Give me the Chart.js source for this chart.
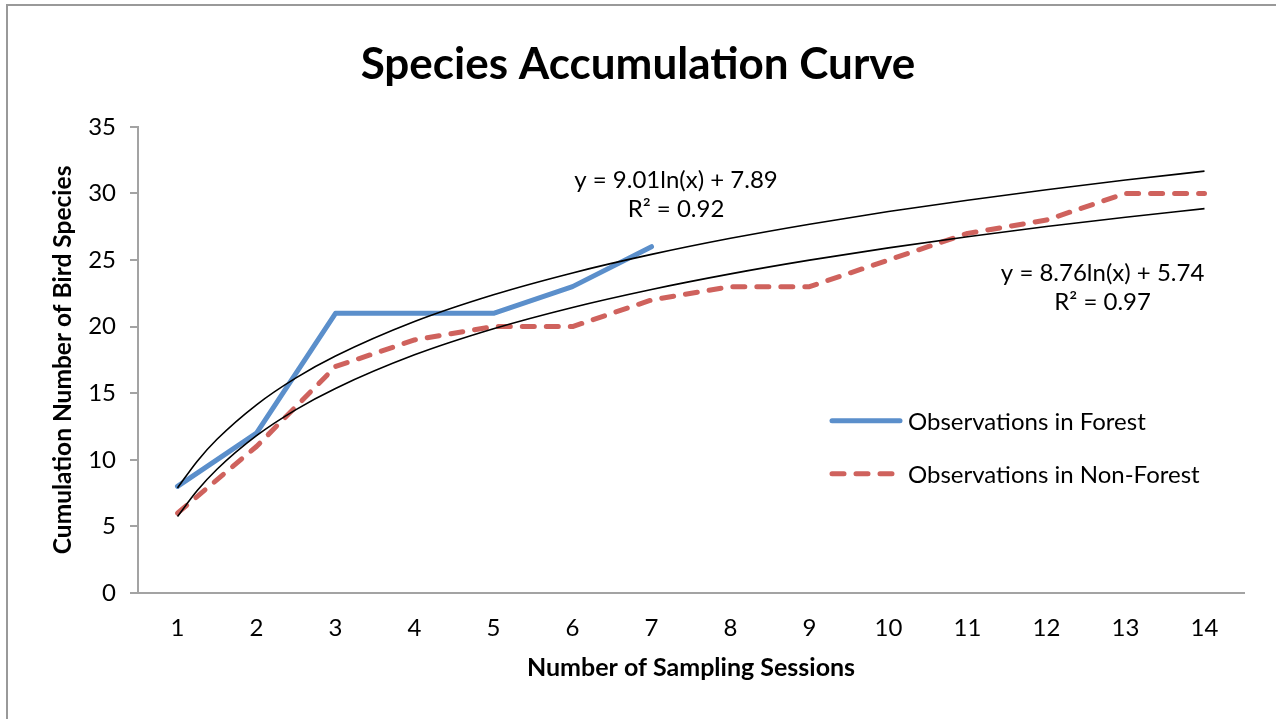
<!DOCTYPE html>
<html>
<head>
<meta charset="utf-8">
<title>Species Accumulation Curve</title>
<script src="https://cdn.jsdelivr.net/npm/chart.js@4.4.1/dist/chart.umd.min.js"></script>
<style>
  html, body { margin: 0; padding: 0; background: #fff; }
  canvas { display: block; }
</style>
</head>
<body>
<canvas id="chart" width="1276" height="719"></canvas>
<script>
// values
const sessions = [1, 2, 3, 4, 5, 6, 7, 8, 9, 10, 11, 12, 13, 14];
const forest = [8, 12, 21, 21, 21, 23, 26];
const nonForest = [6, 11, 17, 19, 20, 20, 22, 23, 23, 25, 27, 28, 30, 30];
const yTicks = [0, 5, 10, 15, 20, 25, 30, 35];

// trendlines (log fit, as printed on the chart)
const trendX = [1, 1.25, 1.5, 2, 2.5, 3, 4, 5, 6, 7, 8, 9, 10, 11, 12, 13, 14];
const forestTrend = [7.89, 9.90, 11.54, 14.13, 16.15, 17.79, 20.38, 22.39, 24.03, 25.42, 26.63, 27.69, 28.64, 29.49, 30.28, 31.00, 31.67];
const nonForestTrend = [5.74, 7.69, 9.29, 11.81, 13.77, 15.36, 17.88, 19.84, 21.44, 22.79, 23.96, 24.99, 25.91, 26.75, 27.51, 28.21, 28.86];

const forestEq = ['y = 9.01ln(x) + 7.89', 'R² = 0.92'];
const nonForestEq = ['y = 8.76ln(x) + 5.74', 'R² = 0.97'];

const FONT = 'Lato, "Open Sans", sans-serif';
const axisGray = '#A3A3A3';

function points(xs, ys) {
    return ys.map((y, i) => ({ x: xs[i], y: y }));
}

const notes = {
    id: 'notes',
    beforeDraw(chart) {
        const ctx = chart.ctx;
        ctx.save();
        ctx.fillStyle = '#fff';
        ctx.fillRect(0, 0, chart.width, chart.height);
        ctx.strokeStyle = '#999';
        ctx.lineWidth = 2;
        ctx.strokeRect(7, 5, chart.width + 20, chart.height + 20);
        ctx.restore();
    },
    afterDraw(chart, args, opts) {
        const ctx = chart.ctx;
        const xs = chart.scales.x, ys = chart.scales.y;
        ctx.save();
        ctx.fillStyle = '#000';
        ctx.font = '24px ' + FONT;
        ctx.textAlign = 'center';
        ctx.textBaseline = 'middle';
        opts.equations.forEach(eq => {
            const cx = xs.getPixelForValue(eq.x);
            const cy = ys.getPixelForValue(eq.y);
            eq.lines.forEach((t, i) => ctx.fillText(t, cx, cy + i * 29));
        });

        // legend inside the plot area
        const area = chart.chartArea;
        let lx = area.right - 414;
        let ly = area.top + 294;
        ctx.font = '24px ' + FONT;
        ctx.textAlign = 'left';
        chart.data.datasets.slice(0, 2).forEach(ds => {
            ctx.save();
            ctx.strokeStyle = ds.borderColor;
            ctx.lineWidth = ds.borderWidth;
            ctx.lineCap = 'round';
            ctx.setLineDash(ds.borderDash || []);
            ctx.beginPath();
            ctx.moveTo(lx + 2, ly);
            ctx.lineTo(lx + 70, ly);
            ctx.stroke();
            ctx.restore();
            ctx.fillText(ds.label, lx + 78, ly + 1);
            ly += 53;
        });
        ctx.restore();
    }
};

function draw() {
    const ctx = document.getElementById('chart').getContext('2d');
    new Chart(ctx, {
        type: 'line',
        data: {
            datasets: [
                {
                    label: 'Observations in Forest',
                    data: points(sessions, forest),
                    borderColor: '#5B8FCB',
                    borderWidth: 5,
                    borderCapStyle: 'round',
                    borderJoinStyle: 'round',
                    pointRadius: 0,
                    tension: 0,
                    order: 2
                },
                {
                    label: 'Observations in Non-Forest',
                    data: points(sessions, nonForest),
                    borderColor: '#CF625D',
                    borderWidth: 5,
                    borderDash: [12, 12],
                    borderCapStyle: 'round',
                    borderJoinStyle: 'round',
                    pointRadius: 0,
                    tension: 0,
                    order: 2
                },
                {
                    label: 'Forest trend',
                    data: points(trendX, forestTrend),
                    borderColor: '#000',
                    borderWidth: 1.6,
                    pointRadius: 0,
                    cubicInterpolationMode: 'monotone',
                    order: 1
                },
                {
                    label: 'Non-forest trend',
                    data: points(trendX, nonForestTrend),
                    borderColor: '#000',
                    borderWidth: 1.6,
                    pointRadius: 0,
                    cubicInterpolationMode: 'monotone',
                    order: 1
                }
            ]
        },
        options: {
            responsive: false,
            animation: false,
            layout: { padding: 0 },
            plugins: {
                legend: { display: false },
                tooltip: { enabled: false },
                title: {
                    display: true,
                    text: 'Species Accumulation Curve',
                    color: '#000',
                    font: { family: FONT, size: 44, weight: 'bold' },
                    padding: { top: 38, bottom: 36 }
                },
                notes: {
                    equations: [
                        { lines: forestEq, x: 7.31, y: 31.0 },
                        { lines: nonForestEq, x: 12.71, y: 23.97 }
                    ]
                }
            },
            scales: {
                x: {
                    type: 'linear',
                    min: 0.5,
                    max: 14.5,
                    afterBuildTicks: s => { s.ticks = sessions.map(v => ({ value: v })); },
                    afterFit: s => { s.height = 126; },
                    grid: { display: true, drawOnChartArea: false, drawTicks: false },
                    border: { display: true, color: axisGray, width: 2 },
                    ticks: { color: '#000', font: { family: FONT, size: 24 }, padding: 21, maxRotation: 0 },
                    title: {
                        display: true,
                        text: 'Number of Sampling Sessions',
                        color: '#000',
                        font: { family: FONT, size: 25, weight: 'bold' },
                        padding: { top: 0, bottom: 36 }
                    }
                },
                y: {
                    min: 0,
                    max: 35,
                    afterBuildTicks: s => { s.ticks = yTicks.map(v => ({ value: v })); },
                    afterFit: s => { s.width = 138; },
                    grid: { display: true, drawOnChartArea: false, drawTicks: true, tickLength: 8, color: axisGray, lineWidth: 2 },
                    border: { display: true, color: axisGray, width: 2 },
                    ticks: { color: '#000', font: { family: FONT, size: 24 }, padding: 14 },
                    title: {
                        display: true,
                        text: 'Cumulation Number of Bird Species',
                        color: '#000',
                        font: { family: FONT, size: 24.5, weight: 'bold' },
                        padding: { top: 48, bottom: 0 }
                    }
                },
                // empty right-hand axis, only keeps the right margin of the plot
                yRight: {
                    position: 'right',
                    min: 0,
                    max: 35,
                    afterFit: s => { s.width = 32; },
                    grid: { display: false },
                    border: { display: false },
                    ticks: { display: false }
                }
            }
        },
        plugins: [notes]
    });
}

document.fonts.load('22px Lato').then(draw, draw);
</script>
</body>
</html>
